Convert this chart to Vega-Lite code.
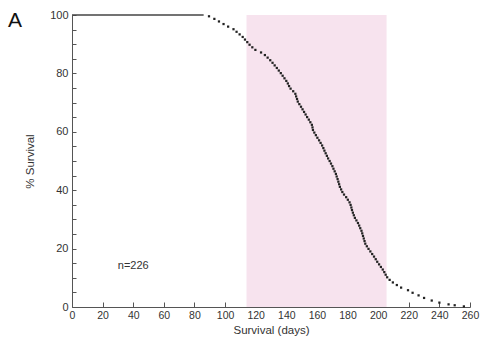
{
  "$schema": "https://vega.github.io/schema/vega-lite/v6.json",
  "width": 398,
  "height": 292,
  "autosize": {"type": "none"},
  "padding": {"left": 72, "top": 15, "right": 12, "bottom": 40},
  "background": "white",
  "title": {"text": "A", "anchor": "start", "frame": "group", "orient": "top", "dx": -64, "dy": 26, "fontSize": 21, "font": "Liberation Sans", "fontWeight": "normal", "color": "#111"},
  "config": {
    "view": {"stroke": null},
    "font": "Liberation Sans",
    "axis": {"domainColor": "#555", "tickColor": "#555", "labelColor": "#333", "titleColor": "#333", "labelFont": "Liberation Sans", "titleFont": "Liberation Sans", "labelFontSize": 11, "titleFontSize": 11.5, "titleFontWeight": "normal", "grid": false, "labelOverlap": false, "labelFlush": false}
  },
  "datasets": {
    "band": [{"day": 114, "day2": 205.5, "pct": 0, "pct2": 100}],
    "flat": [{"day": 0, "pct": 100}, {"day": 86, "pct": 100}],
    "note": [{"day": 40, "pct": 14, "label": "n=226"}],
    "deaths": [
      {"day": 89.5, "pct": 99.56}, {"day": 93, "pct": 98.67}, {"day": 96, "pct": 97.79}, {"day": 99, "pct": 96.9}, {"day": 102, "pct": 96.02},
      {"day": 105.5, "pct": 95.13}, {"day": 107.5, "pct": 94.25}, {"day": 109.5, "pct": 93.36}, {"day": 111.5, "pct": 92.48}, {"day": 113, "pct": 91.59},
      {"day": 114.5, "pct": 90.71}, {"day": 116, "pct": 89.82}, {"day": 117.8, "pct": 88.94}, {"day": 119.8, "pct": 88.05}, {"day": 123.5, "pct": 87.17},
      {"day": 126, "pct": 86.28}, {"day": 127.8, "pct": 85.4}, {"day": 129.5, "pct": 84.51}, {"day": 131, "pct": 83.63}, {"day": 132.4, "pct": 82.74},
      {"day": 133.8, "pct": 81.86}, {"day": 135.1, "pct": 80.97}, {"day": 136.4, "pct": 80.09}, {"day": 137.6, "pct": 79.2}, {"day": 138.8, "pct": 78.32},
      {"day": 140, "pct": 77.43}, {"day": 141, "pct": 76.55}, {"day": 141.8, "pct": 75.66}, {"day": 142.8, "pct": 74.78}, {"day": 144.5, "pct": 73.89},
      {"day": 145.9, "pct": 73.01}, {"day": 146.4, "pct": 72.12}, {"day": 147, "pct": 71.24}, {"day": 147.5, "pct": 70.35}, {"day": 148.5, "pct": 69.47},
      {"day": 149.6, "pct": 68.58}, {"day": 150.6, "pct": 67.7}, {"day": 151.6, "pct": 66.81}, {"day": 152.6, "pct": 65.93}, {"day": 153.6, "pct": 65.04},
      {"day": 154.7, "pct": 64.16}, {"day": 155.7, "pct": 63.27}, {"day": 156.7, "pct": 62.39}, {"day": 157.1, "pct": 61.5}, {"day": 157.4, "pct": 60.62},
      {"day": 158.3, "pct": 59.73}, {"day": 159.3, "pct": 58.85}, {"day": 160.3, "pct": 57.96}, {"day": 161.4, "pct": 57.08}, {"day": 162.4, "pct": 56.19},
      {"day": 163.4, "pct": 55.31}, {"day": 164.2, "pct": 54.42}, {"day": 164.9, "pct": 53.54}, {"day": 165.7, "pct": 52.65}, {"day": 166.5, "pct": 51.77},
      {"day": 167.3, "pct": 50.88}, {"day": 168.3, "pct": 50}, {"day": 169.2, "pct": 49.12}, {"day": 170.1, "pct": 48.23}, {"day": 170.8, "pct": 47.35},
      {"day": 171.6, "pct": 46.46}, {"day": 172.4, "pct": 45.58}, {"day": 172.9, "pct": 44.69}, {"day": 173.5, "pct": 43.81}, {"day": 174, "pct": 42.92},
      {"day": 174.5, "pct": 42.04}, {"day": 175, "pct": 41.15}, {"day": 175.8, "pct": 40.27}, {"day": 176.6, "pct": 39.38}, {"day": 177.7, "pct": 38.5},
      {"day": 179.1, "pct": 37.61}, {"day": 180.2, "pct": 36.73}, {"day": 181.3, "pct": 35.84}, {"day": 182, "pct": 34.96}, {"day": 182.5, "pct": 34.07},
      {"day": 182.9, "pct": 33.19}, {"day": 183.5, "pct": 32.3}, {"day": 184.1, "pct": 31.42}, {"day": 184.8, "pct": 30.53}, {"day": 185.8, "pct": 29.65},
      {"day": 186.8, "pct": 28.76}, {"day": 187.6, "pct": 27.88}, {"day": 188.3, "pct": 26.99}, {"day": 189.1, "pct": 26.11}, {"day": 189.6, "pct": 25.22},
      {"day": 190.1, "pct": 24.34}, {"day": 190.6, "pct": 23.45}, {"day": 191.1, "pct": 22.57}, {"day": 191.6, "pct": 21.68}, {"day": 192.6, "pct": 20.8},
      {"day": 193.7, "pct": 19.91}, {"day": 194.9, "pct": 19.03}, {"day": 196.1, "pct": 18.14}, {"day": 197.3, "pct": 17.26}, {"day": 198.4, "pct": 16.37},
      {"day": 199.4, "pct": 15.49}, {"day": 200.6, "pct": 14.6}, {"day": 201.8, "pct": 13.72}, {"day": 203, "pct": 12.83}, {"day": 204, "pct": 11.95},
      {"day": 204.9, "pct": 11.06}, {"day": 205.9, "pct": 10.18}, {"day": 207.5, "pct": 9.29}, {"day": 209.6, "pct": 8.41}, {"day": 212.2, "pct": 7.52},
      {"day": 215, "pct": 6.64}, {"day": 219.5, "pct": 5.75}, {"day": 222.5, "pct": 4.87}, {"day": 226.4, "pct": 3.98}, {"day": 230, "pct": 3.1},
      {"day": 235, "pct": 2.21}, {"day": 240, "pct": 1.5}, {"day": 246, "pct": 0.9}, {"day": 250, "pct": 0.6}, {"day": 256, "pct": 0.2}
    ]
  },
  "encoding": {
    "x": {"field": "day", "type": "quantitative", "scale": {"domain": [0, 260], "nice": false}, "axis": {"values": [0, 20, 40, 60, 80, 100, 120, 140, 160, 180, 200, 220, 240, 260], "labelOverlap": false, "labelBound": false, "labelFontSize": 10.5, "tickSize": -5, "labelPadding": 8, "title": "Survival (days)", "titlePadding": 4}},
    "y": {"field": "pct", "type": "quantitative", "scale": {"domain": [0, 100], "nice": false}, "axis": {"values": [0, 5, 10, 15, 20, 25, 30, 35, 40, 45, 50, 55, 60, 65, 70, 75, 80, 85, 90, 95, 100], "labelOverlap": false, "labelExpr": "datum.value % 20 === 0 ? datum.label : ''", "tickSize": -4, "labelPadding": 8, "title": "% Survival", "titlePadding": 14}}
  },
  "layer": [
    {
      "data": {"name": "band"},
      "mark": {"type": "rect", "color": "#f7e3ee"},
      "encoding": {
        "x2": {"field": "day2"},
        "y2": {"field": "pct2"}
      }
    },
    {
      "data": {"name": "flat"},
      "mark": {"type": "line", "color": "#444", "strokeWidth": 1.5},
      "encoding": {}
    },
    {
      "data": {"name": "deaths"},
      "mark": {"type": "point", "shape": "square", "filled": true, "size": 5, "color": "#222", "opacity": 1}
    },
    {
      "data": {"name": "note"},
      "mark": {"type": "text", "fontSize": 11, "color": "#333", "align": "center", "baseline": "middle"},
      "encoding": {
        "text": {"field": "label"}
      }
    }
  ]
}
